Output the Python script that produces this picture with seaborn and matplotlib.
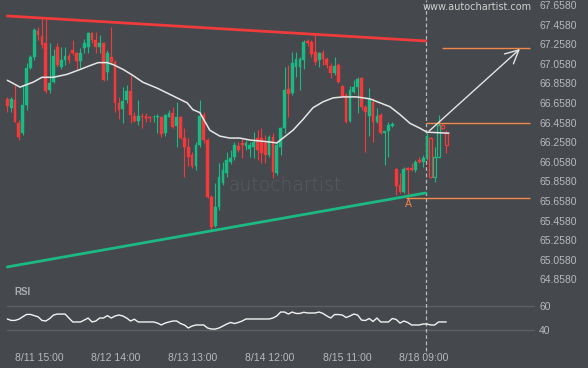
import matplotlib
matplotlib.use('Agg')
import matplotlib.pyplot as plt
import seaborn as sns
import numpy as np

# ---------------- data ----------------
opens = [66.70, 66.61, 66.69, 66.45, 66.35, 66.64, 67.02, 67.13, 67.39, 67.34,
         67.27, 66.79, 66.87, 67.23, 67.03, 67.10, 67.14, 67.20, 67.17, 67.09,
         67.22, 67.23, 67.37, 67.30, 67.23, 67.27, 66.97, 67.13, 67.08, 66.66,
         66.60, 66.69, 66.78, 66.53, 66.47, 66.53, 66.53, 66.51, 66.51, 66.51,
         66.52, 66.35, 66.52, 66.56, 66.42, 66.52, 66.30, 66.21, 66.13, 66.01,
         66.23, 66.54, 66.28, 65.70, 65.40, 65.60, 65.84, 65.94, 66.06, 66.11,
         66.22, 66.25, 66.22, 66.19, 66.21, 66.30, 66.30, 66.25, 66.13, 66.31,
         65.94, 66.21, 66.40, 66.80, 66.76, 67.03, 67.03, 67.10, 67.29, 67.28,
         67.18, 67.10, 67.17, 67.11, 67.04, 66.96, 67.05, 66.83, 66.74, 66.47,
         66.77, 66.82, 66.91, 66.62, 66.53, 66.67, 66.46, 66.54, 66.35, 66.37,
         66.42, 65.98, 65.82, 65.75, 65.99, 65.99, 65.97, 66.08, 66.06, 66.10,
         66.30, 65.90, 66.11, 66.43, 66.35]
closes = [66.63, 66.70, 66.46, 66.31, 66.64, 67.02, 67.13, 67.40, 67.35, 67.25,
          66.78, 66.86, 67.14, 67.05, 67.10, 67.14, 67.10, 67.17, 67.09, 67.17,
          67.27, 67.37, 67.30, 67.23, 67.27, 66.89, 67.17, 67.08, 66.66, 66.59,
          66.68, 66.78, 66.54, 66.47, 66.53, 66.52, 66.49, 66.50, 66.52, 66.53,
          66.34, 66.54, 66.56, 66.41, 66.52, 66.30, 66.21, 66.11, 66.01, 66.23,
          66.53, 66.28, 65.70, 65.39, 65.60, 65.90, 65.97, 66.08, 66.10, 66.23,
          66.18, 66.23, 66.25, 66.23, 66.26, 66.18, 66.15, 66.13, 66.31, 65.95,
          66.23, 66.40, 66.79, 66.75, 67.07, 67.11, 67.11, 67.28, 67.27, 67.16,
          67.08, 67.17, 67.11, 67.05, 66.96, 67.04, 66.87, 66.73, 66.46, 66.79,
          66.82, 66.90, 66.62, 66.57, 66.70, 66.46, 66.53, 66.35, 66.37, 66.43,
          66.44, 65.81, 65.75, 65.98, 65.97, 65.97, 66.06, 66.06, 66.10, 66.32,
          65.90, 66.11, 66.43, 66.40, 66.23]
highs = [66.72, 66.72, 66.84, 66.48, 66.84, 67.07, 67.15, 67.42, 67.43, 67.53,
         67.53, 67.27, 67.21, 67.27, 67.23, 67.23, 67.17, 67.30, 67.18, 67.22,
         67.31, 67.38, 67.38, 67.38, 67.35, 67.28, 67.20, 67.43, 67.10, 66.72,
         66.82, 66.84, 66.94, 66.57, 66.69, 66.56, 66.56, 66.53, 66.54, 66.55,
         66.53, 66.55, 66.59, 66.62, 66.67, 66.53, 66.40, 66.30, 66.16, 66.26,
         66.69, 66.57, 66.30, 65.72, 65.84, 66.05, 66.06, 66.16, 66.18, 66.26,
         66.26, 66.30, 66.28, 66.26, 66.36, 66.38, 66.40, 66.33, 66.33, 66.35,
         66.26, 66.41, 67.03, 67.05, 67.18, 67.18, 67.13, 67.30, 67.31, 67.30,
         67.35, 67.18, 67.20, 67.13, 67.07, 67.13, 67.07, 66.84, 66.76, 66.83,
         66.89, 66.92, 66.92, 66.64, 66.81, 66.71, 66.61, 66.56, 66.37, 66.46,
         66.46, 65.99, 65.94, 66.00, 66.00, 66.05, 66.08, 66.11, 66.13, 66.35,
         66.31, 66.21, 66.54, 66.45, 66.38]
lows = [66.57, 66.57, 66.46, 66.28, 66.33, 66.59, 67.00, 67.10, 67.30, 67.22,
        66.76, 66.76, 66.86, 67.03, 67.00, 67.05, 67.07, 67.15, 67.00, 67.02,
        67.17, 67.17, 67.27, 67.17, 67.17, 66.88, 66.89, 67.07, 66.57, 66.49,
        66.45, 66.66, 66.45, 66.46, 66.43, 66.40, 66.46, 66.46, 66.46, 66.35,
        66.31, 66.32, 66.51, 66.40, 66.21, 66.29, 65.90, 66.01, 65.99, 65.97,
        66.21, 66.25, 65.69, 65.36, 65.39, 65.57, 65.82, 65.90, 66.04, 66.08,
        66.16, 66.10, 66.18, 66.11, 66.10, 66.08, 66.05, 66.05, 66.11, 65.89,
        65.92, 66.13, 66.35, 66.52, 66.74, 66.92, 66.79, 67.00, 67.24, 67.13,
        67.05, 67.03, 67.05, 67.02, 66.91, 66.94, 66.86, 66.72, 66.45, 66.46,
        66.76, 66.56, 66.59, 66.16, 66.32, 66.26, 66.45, 66.34, 66.03, 66.11,
        66.41, 65.72, 65.74, 65.74, 65.70, 65.96, 65.95, 66.05, 66.00, 66.08,
        65.89, 65.85, 66.11, 66.38, 66.15]
hollow_from = 110          # candles after the "now" line are drawn hollow

ma_idx = [0, 3.3, 6.7, 9, 11.9, 15.5, 18.9, 21.5, 23.6, 25.9, 27.5, 30.1, 32.6,
          35.2, 38.9, 41.5, 44.1, 46.7, 48.2, 50, 52.6, 55.2, 57.8, 60.4, 63,
          65.6, 68.2, 70, 71.6, 74.2, 76.8, 79.4, 82, 84.6, 87.2, 90.8, 94.2,
          96.8, 99.4, 102, 104.6, 107.2, 109, 114.7]
ma_val = [66.89, 66.82, 66.87, 66.92, 66.92, 66.95, 67.00, 67.04, 67.07, 67.07,
          67.05, 67.00, 66.94, 66.87, 66.81, 66.76, 66.71, 66.66, 66.59, 66.56,
          66.38, 66.32, 66.30, 66.30, 66.28, 66.27, 66.26, 66.25, 66.30, 66.38,
          66.49, 66.61, 66.67, 66.71, 66.72, 66.72, 66.70, 66.66, 66.62, 66.54,
          66.45, 66.40, 66.36, 66.35]

rsi = [49.2, 48.0, 48.0, 49.0, 51.0, 53.0, 53.0, 52.0, 51.0, 48.0,
       47.5, 49.5, 52.5, 53.3, 53.3, 53.3, 50.0, 46.7, 46.7, 46.7,
       48.3, 50.0, 46.7, 47.5, 50.0, 50.0, 52.0, 50.0, 51.7, 52.5,
       51.7, 50.0, 47.5, 49.0, 46.7, 46.7, 46.7, 46.7, 46.7, 45.8,
       44.2, 45.8, 46.7, 47.5, 47.5, 45.4, 44.2, 41.7, 43.3, 44.2,
       44.2, 44.2, 41.7, 40.8, 40.8, 41.7, 43.3, 45.0, 46.3, 45.4,
       46.3, 47.5, 49.2, 49.2, 49.2, 49.2, 49.2, 49.2, 49.2, 50.0,
       51.7, 55.0, 55.0, 53.3, 55.0, 53.8, 53.8, 54.8, 54.2, 54.2,
       54.2, 55.0, 53.8, 51.7, 50.0, 52.9, 52.9, 52.5, 50.4, 51.7,
       53.3, 52.5, 48.3, 47.9, 49.6, 47.1, 50.0, 46.7, 46.7, 46.7,
       49.6, 48.8, 45.8, 47.5, 46.3, 44.2, 44.2, 44.2, 45.0, 45.0,
       44.2, 44.2, 46.7, 46.7, 46.7]

res_idx = [0, 108.7]
res_val = [67.546, 67.291]
sup_idx = [0, 108.7]
sup_val = [64.985, 65.740]

level_vals = [66.458, 67.222, 65.691]
level_start = [108.7, 112.8, 103.6]
level_end = 135.8
arrow_from = (109.0, 66.352)
arrow_to = (133.7, 67.229)
label_a = (104.3, 65.625)
now_idx = 108.7

time_idx = [8.2, 28.2, 48.2, 68.2, 88.2, 108.2]
time_labels = ['8/11 15:00', '8/12 14:00', '8/13 13:00', '8/14 12:00',
               '8/15 11:00', '8/18 09:00']
price_ticks = [64.858, 65.058, 65.258, 65.458, 65.658, 65.858, 66.058, 66.258,
               66.458, 66.658, 66.858, 67.058, 67.258, 67.458, 67.658]
price_labels = ['64.8580', '65.0580', '65.2580', '65.4580', '65.6580', '65.8580',
                '66.0580', '66.2580', '66.4580', '66.6580', '66.8580', '67.0580',
                '67.2580', '67.4580', '67.6580']
rsi_ticks = [40, 60]
rsi_labels = ['40', '60']

# ---------------- style ----------------
BG = '#45484c'
GREEN = '#19bb84'
RED = '#f5393b'
ORANGE = '#f0894b'
TXT = '#b7b9bc'

sns.set_theme(style='dark', rc={'axes.facecolor': BG, 'figure.facecolor': BG,
                                'savefig.facecolor': BG})
plt.rcParams['font.family'] = ['Liberation Sans', 'DejaVu Sans']

W, H = 588, 368
fig = plt.figure(figsize=(W / 100, H / 100), dpi=100)
ax = fig.add_axes([0, 1 - 283 / H, 535 / W, 283 / H])
ax_r = fig.add_axes([0, 1 - 345 / H, 535 / W, 62 / H])

xlim = (-1.896, 137.06)
for a in (ax, ax_r):
    a.set_xlim(*xlim)
    a.set_facecolor(BG)
    for s in a.spines.values():
        s.set_visible(False)
ax.set_ylim(64.821, 67.709)
ax_r.set_ylim(27.5, 79.2)

# watermark
ax.text(0.533, 0.343, 'autochartist', transform=ax.transAxes, ha='center',
        va='center', fontsize=13.5, color='#575a5f', family='DejaVu Sans',
        fontweight='light', zorder=0)
ax.text(0.892, 0.975, 'www.autochartist.com', transform=ax.transAxes,
        ha='center', va='center', fontsize=7, color='#cfcfcf',
        family='DejaVu Sans', zorder=6)

# candles
idx = np.arange(len(opens))
o = np.array(opens); c = np.array(closes)
hi = np.array(highs); lo = np.array(lows)
up = c >= o
cols = np.where(up, GREEN, RED)
ax.vlines(idx, lo, hi, colors=cols, lw=0.8, zorder=3)
bottom = np.minimum(o, c)
height = np.maximum(np.abs(c - o), 0.008)
solid = idx < hollow_from
ax.bar(idx[solid], height[solid], bottom=bottom[solid], width=0.72,
       color=cols[solid], edgecolor=cols[solid], linewidth=0.3, zorder=4)
ax.bar(idx[~solid], height[~solid], bottom=bottom[~solid], width=0.72,
       color=BG, edgecolor=cols[~solid], linewidth=0.9, zorder=4)

# moving average
sns.lineplot(x=ma_idx, y=ma_val, ax=ax, color='#e6e6e6', lw=1.1, zorder=5)

# trend lines
sns.lineplot(x=res_idx, y=res_val, ax=ax, color='#ef3b3b', lw=2.0, zorder=5)
sns.lineplot(x=sup_idx, y=sup_val, ax=ax, color='#1cb983', lw=2.0, zorder=5)

# levels
for v, s in zip(level_vals, level_start):
    ax.hlines(v, s, level_end, color=ORANGE, lw=1.0, zorder=5)
ax.text(label_a[0], label_a[1], 'A', color=ORANGE, fontsize=7.5,
        ha='center', va='center', zorder=6)

# now line
ax.axvline(now_idx, color='#b9b9b9', lw=0.9, ls=(0, (3, 2)), zorder=2)
ax_r.axvline(now_idx, ymin=-0.1, color='#b9b9b9', lw=0.9, ls=(0, (3, 2)),
             zorder=2, clip_on=False)

# arrow
ax.annotate('', xy=arrow_to, xytext=arrow_from,
            arrowprops=dict(arrowstyle='->,head_length=0.8,head_width=0.4',
                            color='#e4e4e4', lw=1.0), zorder=7)

# price axis
ax.yaxis.tick_right()
ax.set_yticks(price_ticks)
ax.set_yticklabels(price_labels)
ax.tick_params(axis='y', length=0, pad=3, labelsize=7.5, labelcolor=TXT)
ax.set_xticks([])
ax.grid(False)
ax.set_xlabel(''); ax.set_ylabel('')

# RSI panel
sns.lineplot(x=idx, y=rsi, ax=ax_r, color='#f2f2f2', lw=1.0, zorder=4)
ax_r.yaxis.tick_right()
ax_r.set_yticks(rsi_ticks)
ax_r.set_yticklabels(rsi_labels)
ax_r.grid(False)
for v in rsi_ticks:
    ax_r.axhline(v, xmin=7 / 535, color='#5d6064', lw=1.0, zorder=1)
ax_r.tick_params(axis='y', length=0, pad=3, labelsize=7.5, labelcolor=TXT)
ax_r.set_xticks(time_idx)
ax_r.set_xticklabels(time_labels)
ax_r.tick_params(axis='x', length=0, pad=6, labelsize=7.5, labelcolor=TXT)
ax_r.text(14 / 535, 1 - 9 / 62, 'RSI', transform=ax_r.transAxes, ha='left',
          va='center', fontsize=7, fontweight='bold', color='#a9acb0')
ax_r.set_xlabel(''); ax_r.set_ylabel('')

fig.savefig('out.png', dpi=100, facecolor=BG)
